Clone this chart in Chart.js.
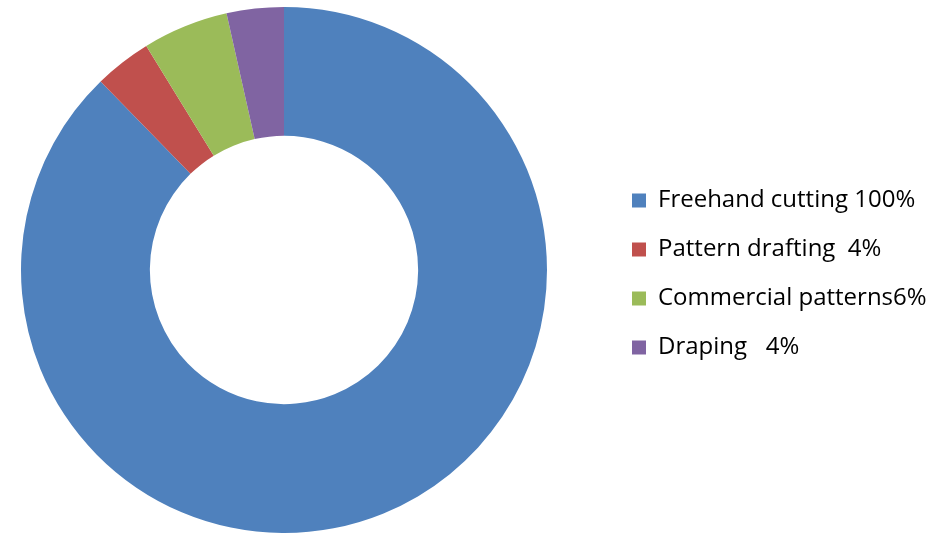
<!DOCTYPE html>
<html>
<head>
    <title>Pattern making methods</title>
    <script src="https://cdn.jsdelivr.net/npm/chart.js"></script>
    <style>
      html, body { margin:0; padding:0; background:#fff; }
      #wrap { width:929px; height:533px; position:relative; }
    </style>
</head>
<body>
  <div id="wrap"><canvas id="donut"></canvas></div>
  <script>
    // data
    const labels = ['Freehand cutting 100%', 'Pattern drafting  4%', 'Commercial patterns6%', 'Draping   4%'];
    const values = [100, 4, 6, 4];
    const colors = ['#4F81BD', '#C0504D', '#9BBB59', '#8064A2'];

    // legend takes a fixed width (ring centred at x=284), then is nudged into place
    const legendFit = {
      id: 'legendFit',
      afterInit(chart) {
        if (!chart.legend) return;
        const fit = chart.legend.fit;
        chart.legend.fit = function () {
          fit.call(this);
          this.width = 361;
        };
      },
      afterLayout(chart) {
        const lg = chart.legend;
        if (!lg) return;
        lg.left += 39;
        lg.right += 39;
        lg.top += 4;
        lg.bottom += 4;
      }
    };

    const ctx = document.getElementById('donut').getContext('2d');
    new Chart(ctx, {
      type: 'doughnut',
      data: {
        labels: labels,
        datasets: [{
          data: values,
          backgroundColor: colors,
          borderWidth: 0
        }]
      },
      options: {
        responsive: true,
        maintainAspectRatio: false,
        animation: false,
        devicePixelRatio: 1,
        cutout: '51%',
        layout: { padding: { left: 0, top: 7, right: 0, bottom: 0 } },
        events: [],
        plugins: {
          tooltip: { enabled: false },
          legend: {
            position: 'right',
            labels: {
              boxWidth: 14,
              boxHeight: 14,
              padding: 25,
              color: '#000',
              font: { family: 'Open Sans', size: 24 }
            }
          }
        }
      },
      plugins: [legendFit]
    });
  </script>
</body>
</html>
